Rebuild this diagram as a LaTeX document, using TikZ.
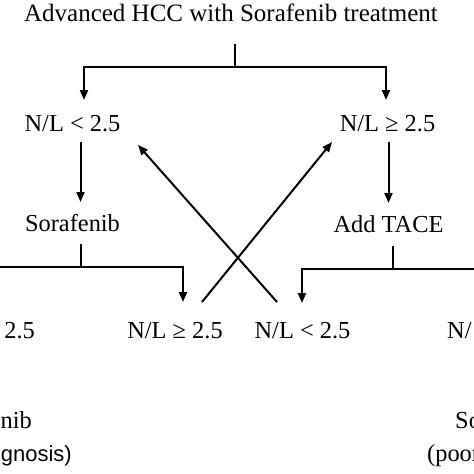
\documentclass[tikz,border=0pt]{standalone}
\usepackage{fontspec}
\setmainfont{Liberation Serif}
\newfontfamily\arialf{Liberation Sans}
\usetikzlibrary{arrows.meta}
\begin{document}
\begin{tikzpicture}[x=1pt,y=-1pt,
  lbl/.style={inner sep=0pt, anchor=base, font=\fontsize{24.4}{28}\selectfont},
  conn/.style={line width=2pt},
  arr/.style={conn, -{Triangle[length=10pt,width=8pt]}}]
\useasboundingbox (0,0) rectangle (474,474);
\begin{scope}
\clip (0,0) rectangle (474,474);
% text nodes
\node[lbl,font=\fontsize{25}{29}\selectfont] (title) at (231,21) {Advanced HCC with Sorafenib treatment};
\node[lbl] (lo) at (72.5,131) {N/L < 2.5};
\node[lbl] (hi) at (387.5,131) {N/L ≥ 2.5};
\node[lbl] (sor) at (72.5,231) {Sorafenib};
\node[lbl] (tace) at (388.5,232) {Add TACE};
\node[lbl] (bhi) at (175,338) {N/L ≥ 2.5};
\node[lbl] (blo) at (302.5,338) {N/L < 2.5};
\node[lbl,anchor=base east] (bl) at (35,338) {2.5};
\node[lbl,anchor=base west] (br) at (447,338) {N/};
\node[lbl,anchor=base east] (sl) at (32,428) {nib};
\node[lbl,anchor=base east,font=\arialf\fontsize{22}{26}\selectfont] (pl) at (72,461) {gnosis)};
\node[lbl,anchor=base west] (sr) at (455,428) {So};
\node[lbl,anchor=base west] (pr) at (427,461) {(poor};
% connector points
\coordinate (t0) at (235,44);
\coordinate (t1) at (235,67);
\coordinate (loin) at (84,100);
\coordinate (hiin) at (386,100);
\coordinate (loout) at (80.5,142);
\coordinate (sorin) at (80.5,202);
\coordinate (hiout) at (388.5,142);
\coordinate (tacein) at (388.5,203);
\coordinate (sor0) at (81,244);
\coordinate (sor1) at (81,267);
\coordinate (sorL) at (-5,267);
\coordinate (bhiin) at (183,302);
\coordinate (tace0) at (393,246);
\coordinate (tace1) at (393,269);
\coordinate (taceR) at (480,269);
\coordinate (bloin) at (302,303);
\coordinate (bhiout) at (202,302);
\coordinate (hicross) at (332,142);
\coordinate (bloout) at (277,302);
\coordinate (locross) at (138,145);
% connectors
\draw[conn] (t0) -- (t1);
\draw[arr] (t1) -| (loin);
\draw[arr] (t1) -| (hiin);
\draw[arr] (loout) -- (sorin);
\draw[arr] (hiout) -- (tacein);
\draw[conn] (sor0) -- (sor1);
\draw[arr] (sorL) -| (bhiin);
\draw[conn] (tace0) -- (tace1);
\draw[arr] (taceR) -| (bloin);
\draw[arr] (bhiout) -- (hicross);
\draw[arr] (bloout) -- (locross);
\end{scope}
\end{tikzpicture}
\end{document}
